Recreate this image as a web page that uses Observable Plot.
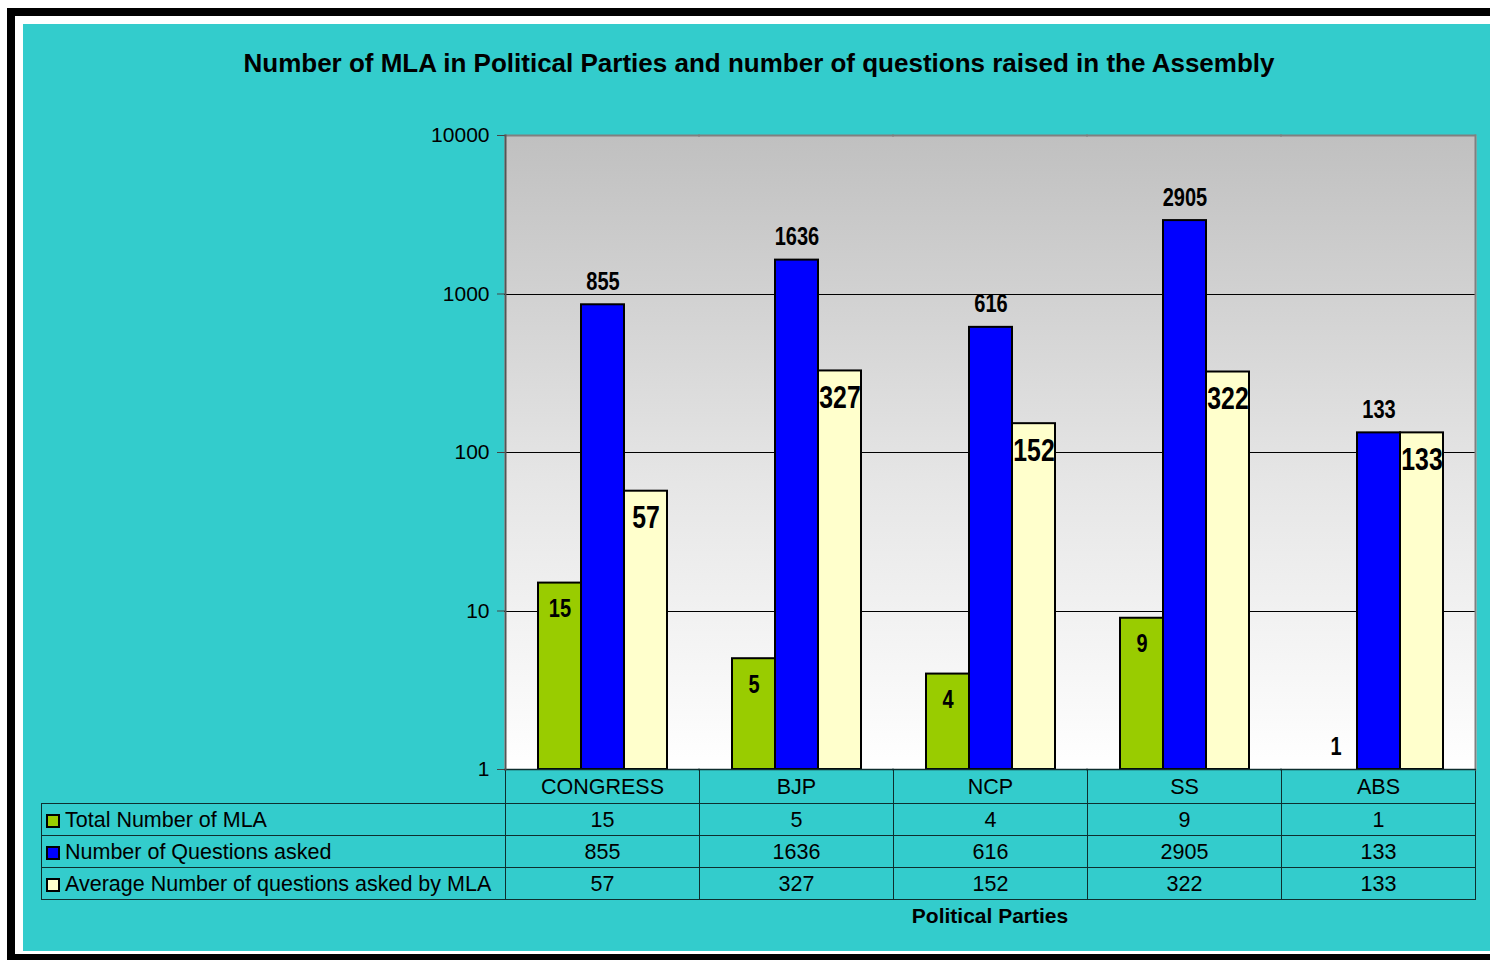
<!DOCTYPE html>
<html><head><meta charset="utf-8">
<script src="https://cdn.jsdelivr.net/npm/d3@7"></script>
<script src="https://cdn.jsdelivr.net/npm/@observablehq/plot@0.6"></script>
<style>
html,body{margin:0;padding:0;background:#fff;width:1490px;height:960px;overflow:hidden;font-family:"Liberation Sans",Arial,sans-serif;}
#frame{position:absolute;left:7px;top:8px;width:1600px;height:954px;box-sizing:border-box;border:8px solid #000;}
#panel{position:absolute;left:23px;top:24px;width:1600px;height:927px;background:#33CCCC;}
#title{position:absolute;left:0;width:1518px;top:47px;text-align:center;font-weight:bold;font-size:26px;line-height:32px;color:#000;}
#chart{position:absolute;left:0;top:100px;}
#tbl{position:absolute;left:41px;top:769px;border-collapse:collapse;table-layout:fixed;font-size:21.5px;color:#000;}
#tbl td{border:1.5px solid #0e2e2e;padding:3px 0 0 0;text-align:center;height:28.3px;white-space:nowrap;line-height:1;box-sizing:content-box;}
#tbl tr.hdr td{height:29.5px;}
#tbl td.lab{text-align:left;padding-left:4px;}
#tbl td.blank{border:none;}
.sw{display:inline-block;width:10px;height:10px;border:2px solid #000;margin-right:5px;vertical-align:-1px;}
#xlabel{position:absolute;left:505px;width:970px;top:903px;text-align:center;font-weight:bold;font-size:21px;line-height:26px;color:#000;}
</style>
</head>
<body>
<div id="frame"></div>
<div id="panel"></div>
<div id="title">Number of MLA in Political Parties and number of questions raised in the Assembly</div>
<table id="tbl"></table>
<div id="xlabel">Political Parties</div>
<script>
const parties = ["CONGRESS", "BJP", "NCP", "SS", "ABS"];
const seriesNames = ["Total Number of MLA", "Number of Questions asked", "Average Number of questions asked by MLA"];
const mlaCount = [15, 5, 4, 9, 1];
const questions = [855, 1636, 616, 2905, 133];
const avgQuestions = [57, 327, 152, 322, 133];
const seriesColors = ["#99CC00", "#0000FF", "#FFFFCC"];
const yTicks = [1, 10, 100, 1000, 10000];
const gridValues = [10, 100, 1000];

const seriesArrays = [mlaCount, questions, avgQuestions];
const rows = [];
parties.forEach((p, i) => {
  seriesArrays.forEach((arr, j) => rows.push({party: p, series: seriesNames[j], value: arr[i]}));
});

const labelFont = "'Liberation Sans', Arial, sans-serif";
const labelText = d => String(d.value);

const chart = Plot.plot({
  width: 1490, height: 702,
  marginLeft: 505, marginRight: 15, marginTop: 35, marginBottom: 33,
  style: {background: "transparent", fontFamily: "'Liberation Sans', Arial, sans-serif", fontSize: "21.5px", overflow: "visible", color: "#000"},
  fx: {domain: parties, padding: 0, label: null},
  x: {domain: seriesNames, paddingInner: 0, paddingOuter: 0.73, axis: null},
  y: {type: "log", domain: [1, 10000], label: null},
  color: {domain: seriesNames, range: seriesColors},
  marks: [
    Plot.frame({fill: "url(#plotBg)", stroke: null, insetLeft: -1, insetRight: -1}),
    Plot.ruleY(gridValues, {stroke: "#000", strokeWidth: 1, shapeRendering: "crispEdges", insetLeft: -1, insetRight: -1}),
    Plot.ruleY([10000], {stroke: "#808080", strokeWidth: 2, insetLeft: -1, insetRight: -1}),
    Plot.frame({anchor: "right", facetAnchor: "right", stroke: "#808080", strokeWidth: 2}),
    Plot.barY(rows, {filter: d => d.value > 1, fx: "party", x: "series", y1: 1, y2: "value", fill: "series", stroke: "#000", strokeWidth: 2}),
    Plot.text(rows, {filter: d => d.series === seriesNames[1] || d.value <= 1, fx: "party", x: "series", y: "value", text: labelText, dy: -23, fontSize: 25, fontWeight: "bold", fontFamily: labelFont, fill: "#000"}),
    Plot.text(rows, {filter: d => d.series === seriesNames[0] && d.value > 1, fx: "party", x: "series", y: "value", text: labelText, dy: 26, fontSize: 25, fontWeight: "bold", fontFamily: labelFont, fill: "#000"}),
    Plot.text(rows, {filter: d => d.series === seriesNames[2] && d.value > 1, fx: "party", x: "series", y: "value", text: labelText, dy: 27, fontSize: 31, fontWeight: "bold", fontFamily: labelFont, fill: "#000"}),
    Plot.axisY({ticks: yTicks, tickFormat: d => String(d), tickSize: 8, tickPadding: 8, stroke: "#444", fill: "#000", fontSize: 21, label: null}),
    Plot.axisFx({anchor: "bottom", tickSize: 0, tickPadding: 9, fontSize: 21.5, fill: "#000", label: null}),
    Plot.ruleY([1], {stroke: "#0e2e2e", strokeWidth: 1.5, insetLeft: -1, insetRight: -1}),
    Plot.frame({anchor: "left", facetAnchor: "left", stroke: "#555", strokeWidth: 2})
  ]
});
chart.id = "chart";
const ns = "http://www.w3.org/2000/svg";
const defs = document.createElementNS(ns, "defs");
const lg = document.createElementNS(ns, "linearGradient");
lg.setAttribute("id", "plotBg");
lg.setAttribute("x1", "0"); lg.setAttribute("y1", "0"); lg.setAttribute("x2", "0"); lg.setAttribute("y2", "1");
[["0", "#C0C0C0"], ["0.55", "#E6E6E6"], ["1", "#FFFFFF"]].forEach(([o, c]) => {
  const s = document.createElementNS(ns, "stop");
  s.setAttribute("offset", o); s.setAttribute("stop-color", c);
  lg.appendChild(s);
});
defs.appendChild(lg);
chart.insertBefore(defs, chart.firstChild);
document.body.appendChild(chart);

// condense the data-label glyphs (reference uses a narrow display face)
chart.querySelectorAll('g[aria-label="text"] text').forEach(t => {
  const len = t.getComputedTextLength();
  if (len > 0) {
    t.setAttribute("textLength", (len * 0.8).toFixed(1));
    t.setAttribute("lengthAdjust", "spacingAndGlyphs");
  }
});

// data table below the chart
const tbl = document.getElementById("tbl");
const cg = document.createElement("colgroup");
[464, 194, 194, 194, 194, 194].forEach(w => { const c = document.createElement("col"); c.style.width = w + "px"; cg.appendChild(c); });
tbl.appendChild(cg);
const hdr = document.createElement("tr");
hdr.className = "hdr";
const blank = document.createElement("td"); blank.className = "blank"; hdr.appendChild(blank);
parties.forEach(() => hdr.appendChild(document.createElement("td")));
tbl.appendChild(hdr);
seriesNames.forEach((name, j) => {
  const tr = document.createElement("tr");
  const lab = document.createElement("td"); lab.className = "lab";
  const sw = document.createElement("span"); sw.className = "sw"; sw.style.background = seriesColors[j];
  lab.appendChild(sw); lab.appendChild(document.createTextNode(name));
  tr.appendChild(lab);
  seriesArrays[j].forEach(v => { const td = document.createElement("td"); td.textContent = v; tr.appendChild(td); });
  tbl.appendChild(tr);
});
</script>
</body></html>
